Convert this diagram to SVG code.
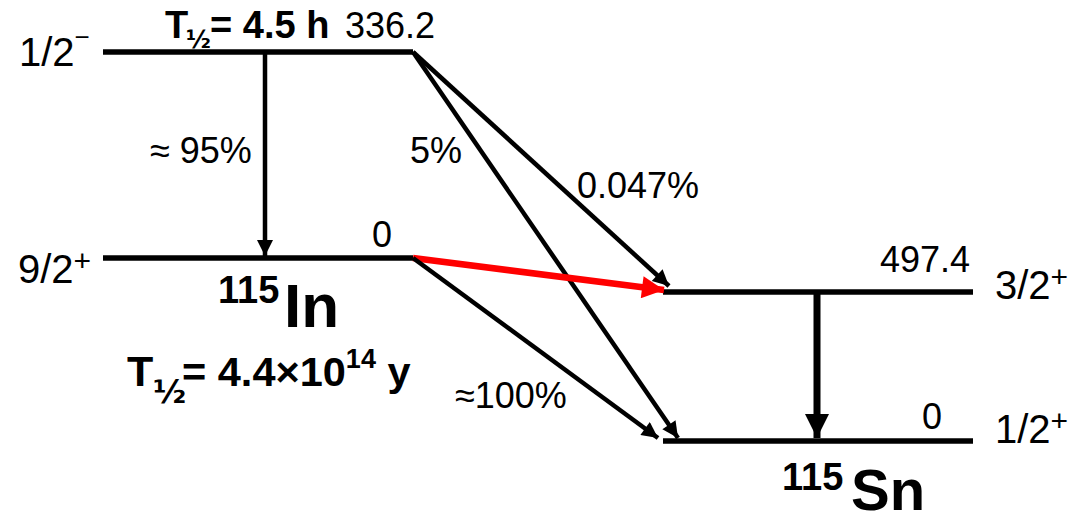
<svg xmlns="http://www.w3.org/2000/svg" width="1088" height="517" viewBox="0 0 1088 517">
<defs>
<style>
text{font-family:"Liberation Sans",Arial,sans-serif;fill:#000}
.num{font-size:36px}
.spin{font-size:40px}
.b{font-weight:bold}
.half{font-family:"DejaVu Sans",sans-serif;font-weight:bold}
.lvl{stroke:#000;stroke-width:5.5;fill:none}
.arr{stroke:#000;stroke-width:4.5;fill:none}
</style>
<marker id="ah" viewBox="0 0 10 10" refX="10" refY="5" markerWidth="18" markerHeight="16" orient="auto" markerUnits="userSpaceOnUse"><path d="M0,0 L10,5 L0,10 z" fill="#000"/></marker>
<marker id="ahb" viewBox="0 0 10 10" refX="10" refY="5" markerWidth="24" markerHeight="24" orient="auto" markerUnits="userSpaceOnUse"><path d="M0,0 L10,5 L0,10 z" fill="#000"/></marker>
<marker id="ahr" viewBox="0 0 10 10" refX="10" refY="5" markerWidth="26" markerHeight="22" orient="auto" markerUnits="userSpaceOnUse"><path d="M0,0 L10,5 L0,10 z" fill="#f00"/></marker>
</defs>
<rect width="1088" height="517" fill="#fff"/>
<g id="level-in-336">
<line class="lvl" x1="103" y1="52" x2="413" y2="52"/>
<text class="spin" x="19" y="66">1/2<tspan font-size="26" dy="-20">−</tspan></text>
<text y="38" font-size="38" class="b"><tspan x="165">T</tspan><tspan class="half" x="186" y="48" font-size="24">½</tspan><tspan x="210" y="38">= 4.5 h</tspan></text>
<text class="num" x="345" y="38">336.2</text>
</g>
<g id="level-in-0">
<line class="lvl" x1="103" y1="258" x2="413" y2="258"/>
<text class="spin" x="18" y="283">9/2<tspan font-size="30" dy="-12">+</tspan></text>
<text class="num" x="372" y="247">0</text>
<text class="b" x="218" y="303" font-size="38">115</text>
<text class="b" x="284" y="327" font-size="62">In</text>
<text y="386" font-size="41.5" class="b"><tspan x="127" font-size="43">T</tspan><tspan class="half" x="153" y="403" font-size="32">½</tspan><tspan x="182" y="386">= 4.4×10</tspan><tspan font-size="27" dy="-18">14</tspan><tspan dy="18"> y</tspan></text>
</g>
<g id="level-sn-497">
<line class="lvl" x1="663" y1="292" x2="973" y2="292"/>
<text class="num" x="880" y="272">497.4</text>
<text class="spin" x="995" y="299">3/2<tspan font-size="30" dy="-12">+</tspan></text>
</g>
<g id="level-sn-0">
<line class="lvl" x1="663" y1="441" x2="973" y2="441"/>
<text class="num" x="922" y="429">0</text>
<text class="spin" x="995" y="443">1/2<tspan font-size="30" dy="-12">+</tspan></text>
<text class="b" x="782" y="490" font-size="38">115</text>
<text class="b" x="851" y="510" font-size="58">Sn</text>
</g>
<g id="connectors">
<line class="arr" x1="265" y1="52" x2="265" y2="256" marker-end="url(#ah)"/>
<line class="arr" x1="413" y1="52" x2="669" y2="286" marker-end="url(#ah)"/>
<line class="arr" x1="413" y1="52" x2="678" y2="438" marker-end="url(#ah)"/>
<line x1="413" y1="258" x2="664" y2="290" stroke="#f00" stroke-width="6.5" marker-end="url(#ahr)"/>
<line class="arr" x1="413" y1="258" x2="658" y2="438" marker-end="url(#ah)"/>
<line x1="817" y1="292" x2="817" y2="438" stroke="#000" stroke-width="7" marker-end="url(#ahb)"/>
<text class="num" x="150" y="163">≈ 95%</text>
<text class="num" x="410" y="163">5%</text>
<text class="num" x="577" y="198">0.047%</text>
<text class="num" x="455" y="408">≈100%</text>
</g>
</svg>
